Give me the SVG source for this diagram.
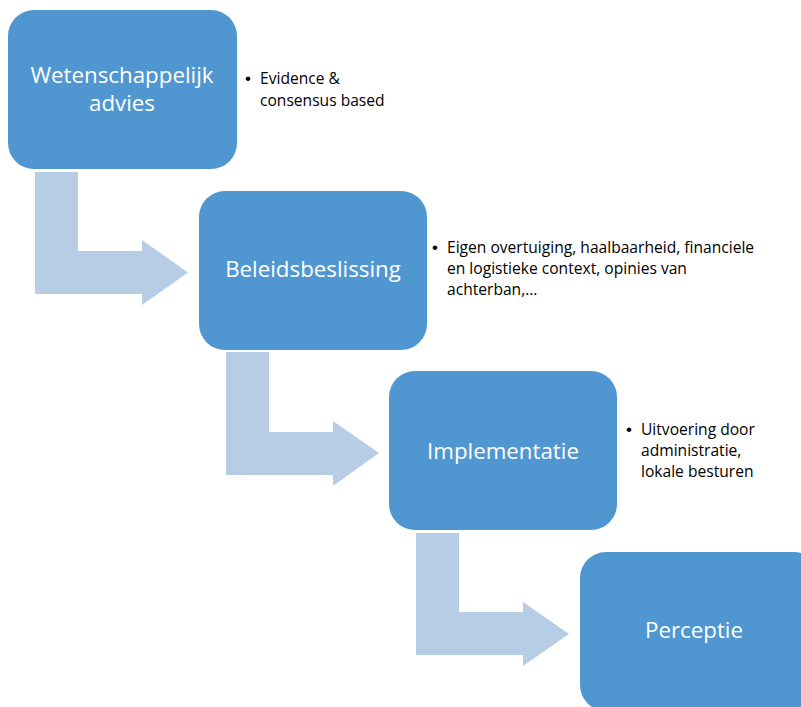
<svg xmlns="http://www.w3.org/2000/svg" width="801" height="707" viewBox="0 0 801 707">
<style>
.box{fill:#5097D1;}
.arr{fill:#B7CDE5;}
.t{font-family:"Open Sans","Liberation Sans",Arial,sans-serif;font-size:22.3px;fill:#FFFFFF;text-anchor:middle;}
.b{font-family:"Open Sans","Liberation Sans",Arial,sans-serif;font-size:15.6px;fill:#000000;}
.d{font-family:"Liberation Sans",Arial,sans-serif;font-size:17px;fill:#000000;}
</style>
<rect width="801" height="707" fill="#FFFFFF"/>
<g id="connectors">
<path class="arr" d="M35,172 H78 V251 H142 V240 L188,272.5 L142,305 V294 H35 Z"/>
<path class="arr" d="M226,352 H269 V432 H333 V421 L379,453 L333,486 V475 H226 Z"/>
<path class="arr" d="M416,533 H459 V612 H523 V602 L569,634 L523,666 V655 H416 Z"/>
</g>
<g id="node1">
<rect class="box" x="8" y="10" width="229" height="159" rx="26"/>
<text class="t" x="122" y="83">Wetenschappelijk</text>
<text class="t" x="122" y="111">advies</text>
</g>
<g id="note1">
<text class="d" x="245" y="84">•</text>
<text class="b" x="260" y="84">Evidence &amp;</text>
<text class="b" x="260" y="106">consensus based</text>
</g>
<g id="node2">
<rect class="box" x="199" y="191" width="228" height="159" rx="26"/>
<text class="t" x="313" y="277">Beleidsbeslissing</text>
</g>
<g id="note2">
<text class="d" x="432" y="253">•</text>
<text class="b" x="447" y="253">Eigen overtuiging, haalbaarheid, financiele</text>
<text class="b" x="447" y="274">en logistieke context, opinies van</text>
<text class="b" x="447" y="295">achterban,…</text>
</g>
<g id="node3">
<rect class="box" x="389" y="371" width="228" height="159" rx="26"/>
<text class="t" x="503" y="459">Implementatie</text>
</g>
<g id="note3">
<text class="d" x="626" y="435">•</text>
<text class="b" x="641" y="435">Uitvoering door</text>
<text class="b" x="641" y="456">administratie,</text>
<text class="b" x="641" y="477">lokale besturen</text>
</g>
<g id="node4">
<rect class="box" x="580" y="552" width="240" height="159" rx="26"/>
<text class="t" x="694" y="638">Perceptie</text>
</g>
</svg>
